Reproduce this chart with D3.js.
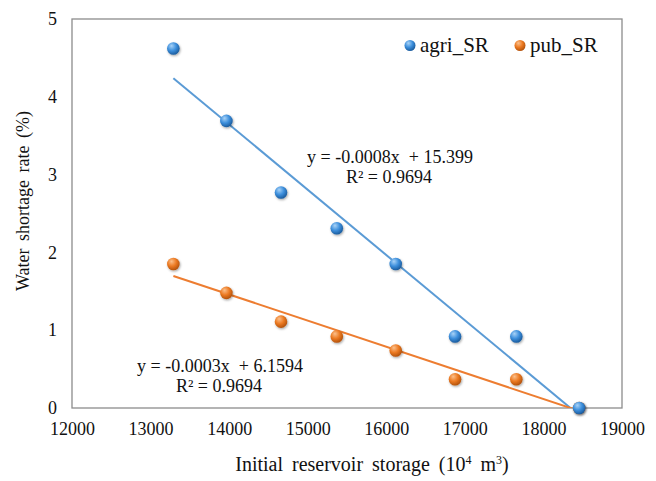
<!DOCTYPE html>
<html>
<head>
<meta charset="utf-8">
<script src="https://cdn.jsdelivr.net/npm/d3@7"></script>
<style>
  html, body { margin: 0; padding: 0; background: #fff; }
  svg { display: block; }
</style>
</head>
<body>
<svg id="chart" width="656" height="481"></svg>
<script>
// ---- data ----
const storage = [13290, 13965, 14660, 15370, 16120, 16875, 17655, 18455];
const agriSR  = [4.62, 3.69, 2.77, 2.31, 1.85, 0.92, 0.92, 0];
const pubSR   = [1.85, 1.48, 1.11, 0.92, 0.74, 0.37, 0.37, 0];
const seriesNames = ["agri_SR", "pub_SR"];
const xTicks = [12000, 13000, 14000, 15000, 16000, 17000, 18000, 19000];
const yTicks = [0, 1, 2, 3, 4, 5];
const agriEq = ["y = -0.0008x  + 15.399", "R² = 0.9694"];
const pubEq  = ["y = -0.0003x  + 6.1594", "R² = 0.9694"];

const FONT = "'Liberation Serif', 'Times New Roman', 'DejaVu Serif', serif";
const INK = "#111";

// ---- layout ----
const W = 656, H = 481;
const m = {left: 72, right: 34, top: 19, bottom: 73};
const pw = W - m.left - m.right, ph = H - m.top - m.bottom;

const svg = d3.select("#chart");
const x = d3.scaleLinear().domain([12000, 19000]).range([m.left, m.left + pw]);
const y = d3.scaleLinear().domain([0, 5]).range([m.top + ph, m.top]);

const defs = svg.append("defs");
function grad(id, hi, mid, edge) {
  const g = defs.append("radialGradient").attr("id", id)
    .attr("cx", "40%").attr("cy", "35%").attr("r", "65%").attr("fx", "35%").attr("fy", "28%");
  g.append("stop").attr("offset", "0%").attr("stop-color", hi);
  g.append("stop").attr("offset", "55%").attr("stop-color", mid);
  g.append("stop").attr("offset", "100%").attr("stop-color", edge);
}
grad("gBlue", "#a9d3f7", "#3d8fdc", "#1b5c9e");
grad("gOrange", "#fbc08c", "#ec7a22", "#b4530c");
defs.append("clipPath").attr("id", "plotClip").append("rect")
  .attr("x", m.left).attr("y", m.top).attr("width", pw).attr("height", ph);
const sh = defs.append("filter").attr("id", "shadow").attr("x", "-50%").attr("y", "-50%").attr("width", "200%").attr("height", "200%");
sh.append("feDropShadow").attr("dx", 0.8).attr("dy", 1.2).attr("stdDeviation", 0.9).attr("flood-color", "#000").attr("flood-opacity", 0.35);

// plot border
svg.append("rect").attr("x", m.left).attr("y", m.top).attr("width", pw).attr("height", ph)
  .attr("fill", "none").attr("stroke", "#8c8c8c").attr("stroke-width", 1.3);

// axes (labels only)
const xAxis = svg.append("g").attr("transform", `translate(0,${m.top + ph})`)
  .call(d3.axisBottom(x).tickValues(xTicks).tickFormat(d3.format("d")).tickSize(0).tickPadding(14));
xAxis.attr("font-family", FONT);
xAxis.select(".domain").remove();
xAxis.selectAll("text").style("font-family", FONT).style("font-size", "18px").attr("fill", INK);

const yAxis = svg.append("g").attr("transform", `translate(${m.left},0)`)
  .call(d3.axisLeft(y).tickValues(yTicks).tickFormat(d3.format("d")).tickSize(0).tickPadding(15));
yAxis.attr("font-family", FONT);
yAxis.select(".domain").remove();
yAxis.selectAll("text").style("font-family", FONT).style("font-size", "18px").attr("fill", INK);

// axis titles
const xt = svg.append("text").attr("x", 372).attr("y", 471).attr("text-anchor", "middle")
  .style("font-family", FONT).style("font-size", "20px").style("word-spacing", "4px").attr("fill", INK);
xt.append("tspan").text("Initial reservoir storage (10");
xt.append("tspan").attr("dy", -7).style("font-size", "12px").text("4");
xt.append("tspan").attr("dy", 7).text(" m");
xt.append("tspan").attr("dy", -7).style("font-size", "12px").text("3");
xt.append("tspan").attr("dy", 7).text(")");

svg.append("text").attr("transform", "translate(29,201) rotate(-90)").attr("text-anchor", "middle")
  .style("font-family", FONT).style("font-size", "18px").style("word-spacing", "3px").attr("fill", INK)
  .text("Water shortage rate (%)");

// trendlines (least squares)
function fit(xs, ys) {
  const mx = d3.mean(xs), my = d3.mean(ys);
  let sxy = 0, sxx = 0;
  xs.forEach((v, i) => { sxy += (v - mx) * (ys[i] - my); sxx += (v - mx) * (v - mx); });
  const b = sxy / sxx; return {b, a: my - b * mx};
}
const series = [
  {name: seriesNames[0], vals: agriSR, color: "#5b9bd5", grad: "url(#gBlue)"},
  {name: seriesNames[1], vals: pubSR, color: "#ed7d31", grad: "url(#gOrange)"}
];
const xmin = d3.min(storage), xmax = d3.max(storage);
const lineG = svg.append("g").attr("clip-path", "url(#plotClip)");
series.forEach(s => {
  const f = fit(storage, s.vals);
  lineG.append("line")
    .attr("x1", x(xmin)).attr("y1", y(f.a + f.b * xmin))
    .attr("x2", x(xmax)).attr("y2", y(f.a + f.b * xmax))
    .attr("stroke", s.color).attr("stroke-width", 2);
});

// points (pub first, then agri on top)
[series[1], series[0]].forEach(s => {
  svg.append("g").selectAll("circle").data(storage.map((v, i) => [v, s.vals[i]])).join("circle")
    .attr("cx", d => x(d[0])).attr("cy", d => y(d[1])).attr("r", 6.3)
    .attr("fill", s.grad).attr("filter", "url(#shadow)");
});

// equations
function eq(lines, cx, by) {
  svg.append("text").attr("x", cx).attr("y", by).attr("text-anchor", "middle")
    .style("font-family", FONT).style("font-size", "18px").style("white-space", "pre").attr("fill", INK).text(lines[0]);
  svg.append("text").attr("x", cx - 1).attr("y", by + 20).attr("text-anchor", "middle")
    .style("font-family", FONT).style("font-size", "18px").attr("fill", INK).text(lines[1]);
}
eq(agriEq, 390, 163);
eq(pubEq, 220, 372);

// legend
const leg = [{x: 410, s: series[0]}, {x: 520, s: series[1]}];
leg.forEach(l => {
  svg.append("circle").attr("cx", l.x).attr("cy", 45.5).attr("r", 5.5).attr("fill", l.s.grad);
  svg.append("text").attr("x", l.x + 10).attr("y", 52)
    .style("font-family", FONT).style("font-size", "21px").attr("fill", INK).text(l.s.name);
});
</script>
</body>
</html>
